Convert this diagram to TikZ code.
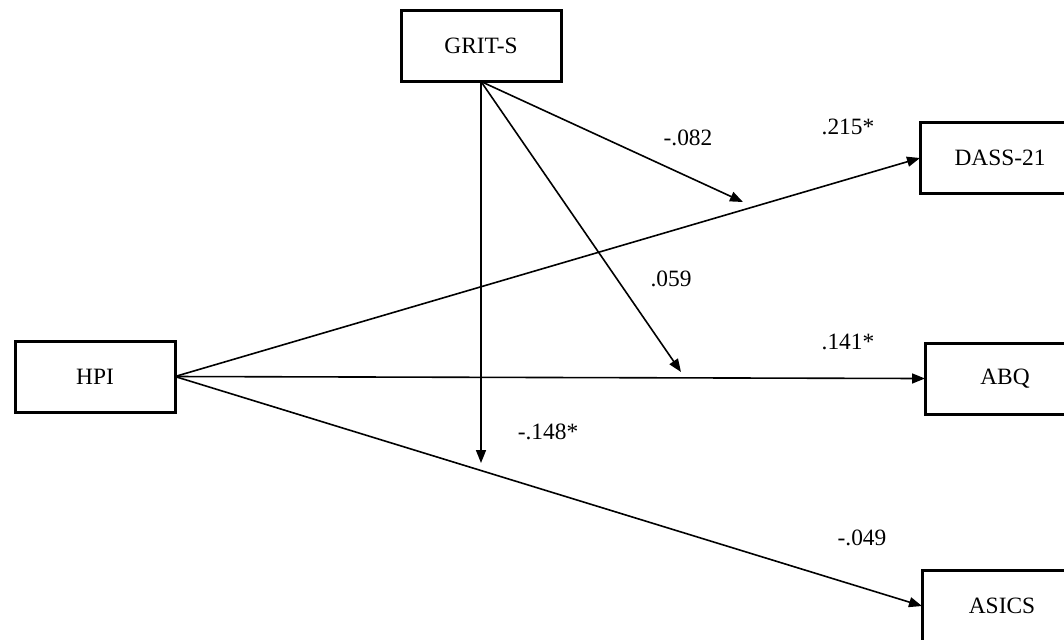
\documentclass[tikz,border=0pt]{standalone}
\usepackage{fontspec}
\setmainfont{Liberation Serif}
\usetikzlibrary{arrows.meta}
\begin{document}
\begin{tikzpicture}[x=0.5pt,y=-0.5pt,
  box/.style={draw,line width=1.5pt,minimum width=80pt,minimum height=35.5pt,inner sep=0pt,outer sep=0pt,font=\fontsize{11.7}{14}\selectfont},
  lbl/.style={font=\fontsize{11.7}{14}\selectfont,inner sep=0pt},
  conn/.style={line width=0.8pt,-{Triangle[length=6.5pt,width=5pt]}}]
\useasboundingbox (0,0) rectangle (1064,639);
\node[box] (grit) at (481,46) {GRIT-S};
\node[box] (hpi) at (95,376.5) {HPI};
\node[box] (dass) at (1000,158) {DASS-21};
\node[box] (abq) at (1005,378.5) {ABQ};
\node[box] (asics) at (1002,606) {ASICS};
\coordinate (m1) at (743,202);
\coordinate (m2) at (681,372);
\coordinate (m3) at (481,463);
\draw[conn] (hpi.east) -- (dass.west);
\draw[conn] (hpi.east) -- (abq.west);
\draw[conn] (hpi.east) -- (asics.west);
\draw[conn] (grit.south) -- (m1);
\draw[conn] (grit.south) -- (m2);
\draw[conn] (grit.south) -- (m3);
\node[lbl] (l1) at (688,138) {-.082};
\node[lbl] (l2) at (848,127) {.215*};
\node[lbl] (l3) at (671,279) {.059};
\node[lbl] (l4) at (848,342) {.141*};
\node[lbl] (l5) at (548,432) {-.148*};
\node[lbl] (l6) at (862,538) {-.049};
\end{tikzpicture}
\end{document}
